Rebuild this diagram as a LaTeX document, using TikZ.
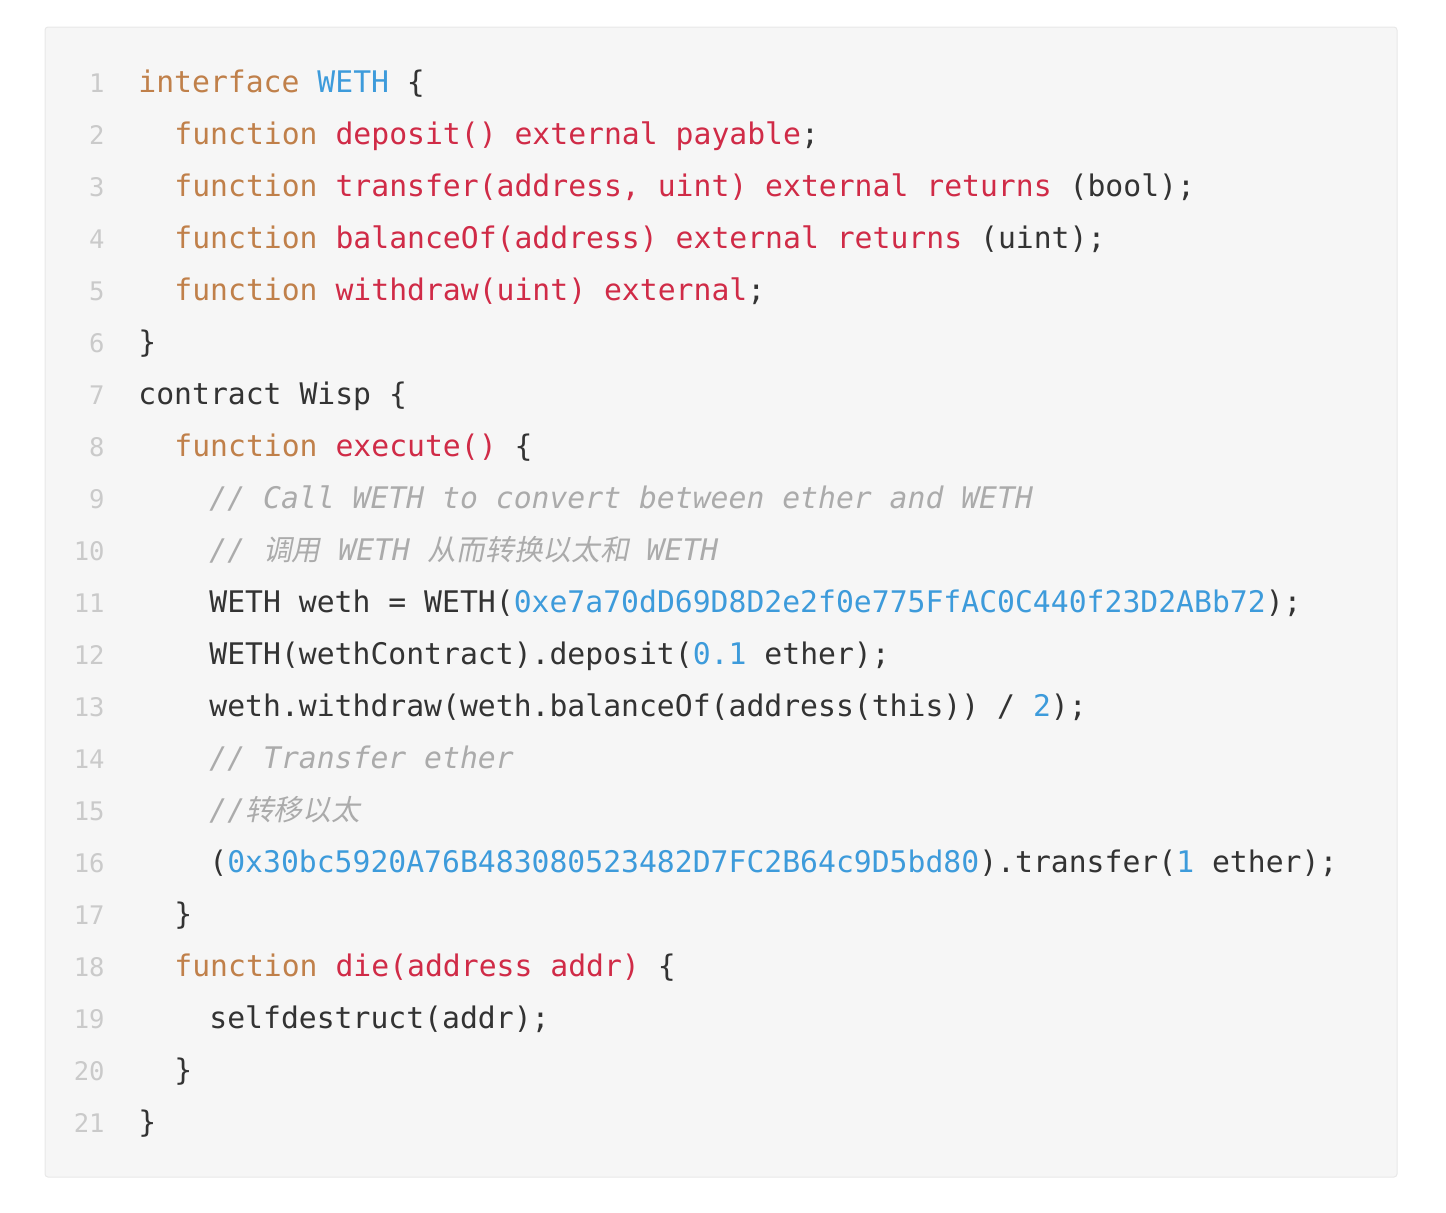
\documentclass[tikz,border=0pt]{standalone}
\usepackage{fontspec}
\setmonofont{DejaVu Sans Mono}
\newfontfamily\cjk[FakeSlant=0.2,Scale=0.965]{Noto Sans CJK SC}
\definecolor{boxfill}{HTML}{F6F6F6}
\definecolor{boxline}{HTML}{E8E8E8}
\definecolor{kwcol}{HTML}{C0804A}
\definecolor{fncol}{HTML}{D02B47}
\definecolor{numcol}{HTML}{3D9BDB}
\definecolor{cmcol}{HTML}{ABABAB}
\definecolor{nocol}{HTML}{CACACA}
\definecolor{txtcol}{HTML}{333333}
\newcommand{\kw}[1]{\textcolor{kwcol}{#1}}
\newcommand{\fn}[1]{\textcolor{fncol}{#1}}
\newcommand{\nm}[1]{\textcolor{numcol}{#1}}
\newcommand{\cm}[1]{\textcolor{cmcol}{\itshape #1}}
\tikzset{
  codeline/.style={anchor=base west, inner sep=0pt, text=txtcol,
    font=\ttfamily\fontsize{14.87pt}{18pt}\selectfont},
  lineno/.style={anchor=base east, inner sep=0pt, text=nocol,
    font=\ttfamily\fontsize{12.8pt}{15pt}\selectfont}
}
\begin{document}
\begin{tikzpicture}[x=0.5pt, y=-0.5pt]
			\def \xa{138}
			\def \xb{174}
			\def \xc{209}
			\useasboundingbox (0,0) rectangle (1446,1212);
			\draw[boxline, fill=boxfill, line width=0.5pt, rounded corners=1.5pt] (45,27) rectangle (1397,1177);
			% line numbers
			\foreach \i in {1,...,21}
			\node[lineno] (n\i) at (105,{92+52*(\i-1)}) {\i};
			% code
			\node[codeline] (c1) at (\xa,92) {\kw{interface} \nm{WETH} \{};
			\node[codeline] (c2) at (\xb,144) {\kw{function} \fn{deposit() external payable};};
			\node[codeline] (c3) at (\xb,196) {\kw{function} \fn{transfer(address, uint) external returns} (bool);};
			\node[codeline] (c4) at (\xb,248) {\kw{function} \fn{balanceOf(address) external returns} (uint);};
			\node[codeline] (c5) at (\xb,300) {\kw{function} \fn{withdraw(uint) external};};
			\node[codeline] (c6) at (\xa,352) {\}};
			\node[codeline] (c7) at (\xa,404) {contract Wisp \{};
			\node[codeline] (c8) at (\xb,456) {\kw{function} \fn{execute()} \{};
			\node[codeline] (c9) at (\xc,508) {\cm{// Call WETH to convert between ether and WETH}};
			\node[codeline] (c10) at (\xc,560) {\cm{// {\cjk 调用} WETH {\cjk 从而转换以太和} WETH}};
			\node[codeline] (c11) at (\xc,612) {WETH weth = WETH(\nm{0xe7a70dD69D8D2e2f0e775FfAC0C440f23D2ABb72});};
			\node[codeline] (c12) at (\xc,664) {WETH(wethContract).deposit(\nm{0.1} ether);};
			\node[codeline] (c13) at (\xc,716) {weth.withdraw(weth.balanceOf(address(this)) / \nm{2});};
			\node[codeline] (c14) at (\xc,768) {\cm{// Transfer ether}};
			\node[codeline] (c15) at (\xc,820) {\cm{//{\cjk 转移以太}}};
			\node[codeline] (c16) at (\xc,872) {(\nm{0x30bc5920A76B483080523482D7FC2B64c9D5bd80}).transfer(\nm{1} ether);};
			\node[codeline] (c17) at (\xb,924) {\}};
			\node[codeline] (c18) at (\xb,976) {\kw{function} \fn{die(address addr)} \{};
			\node[codeline] (c19) at (\xc,1028) {selfdestruct(addr);};
			\node[codeline] (c20) at (\xb,1080) {\}};
			\node[codeline] (c21) at (\xa,1132) {\}};
		\end{tikzpicture}
\end{document}
